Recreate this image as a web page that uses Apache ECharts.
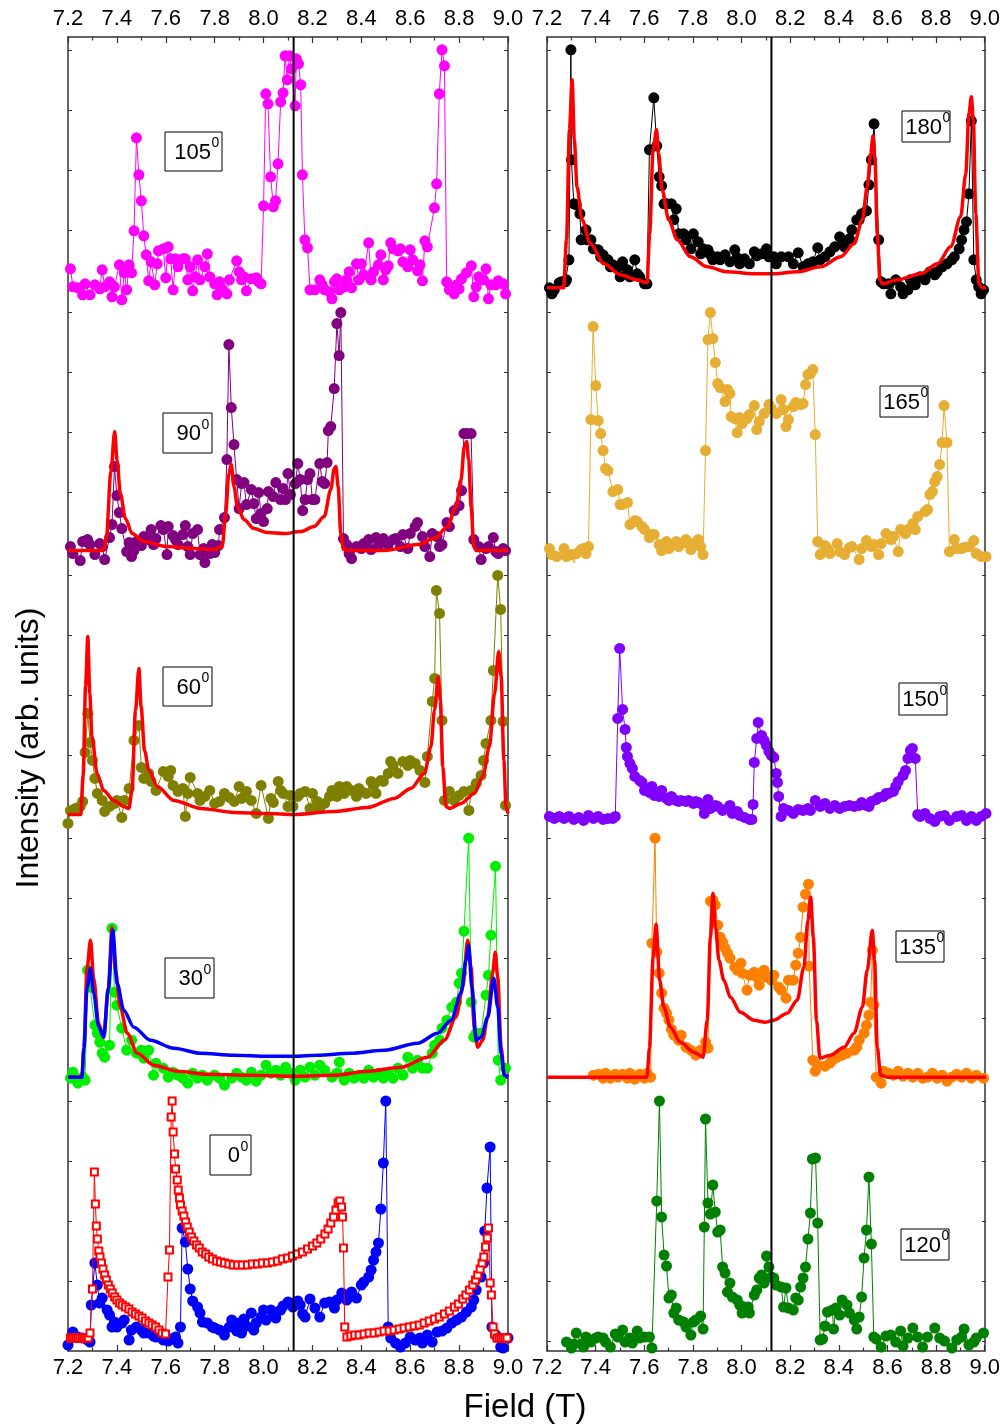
<!DOCTYPE html>
<html>
<head>
<meta charset="utf-8">
<script src="https://cdn.jsdelivr.net/npm/echarts@6/dist/echarts.min.js"></script>
<style>
  html, body { margin: 0; padding: 0; background: #fff; }
  #chart { width: 1003px; height: 1428px; }
</style>
</head>
<body>
<div id="chart"></div>
<script>
// Field sweeps (T) vs. intensity (arb. units, height above each strip's baseline)
const fieldTicks = [7.2, 7.4, 7.6, 7.8, 8.0, 8.2, 8.4, 8.6, 8.8, 9.0];
const refField = 8.123;

// ---- left column ----
const d105 = [[7.21,31],[7.22,13],[7.24,12],[7.26,5],[7.27,16],[7.29,5],[7.31,15],[7.33,11],[7.34,30],[7.35,13],[7.37,18],[7.38,3],[7.39,13],[7.41,35],[7.42,0],[7.43,27],[7.44,10],[7.45,35],[7.46,27],[7.47,69],[7.48,162],[7.49,125],[7.50,99],[7.51,64],[7.52,45],[7.53,19],[7.54,38],[7.555,15],[7.565,36],[7.57,49],[7.59,51],[7.60,22],[7.61,53],[7.62,41],[7.63,10],[7.64,41],[7.65,33],[7.67,41],[7.68,41],[7.69,20],[7.70,33],[7.71,9],[7.72,23],[7.73,40],[7.74,20],[7.76,33],[7.77,46],[7.78,23],[7.80,16],[7.81,5],[7.82,18],[7.83,11],[7.85,6],[7.86,20],[7.89,39],[7.90,28],[7.91,20],[7.92,23],[7.93,9],[7.95,21],[7.97,22],[7.98,18],[7.99,16],[8.00,94],[8.009,206],[8.018,196],[8.029,123],[8.04,93],[8.049,99],[8.059,136],[8.07,198],[8.08,207],[8.088,244],[8.097,220],[8.106,244],[8.114,231],[8.129,194],[8.134,241],[8.143,236],[8.152,215],[8.159,125],[8.169,60],[8.18,52],[8.19,10],[8.21,10],[8.23,20],[8.24,15],[8.25,10],[8.27,8],[8.28,1],[8.29,18],[8.30,21],[8.31,10],[8.33,13],[8.34,20],[8.35,28],[8.36,12],[8.38,36],[8.39,20],[8.40,36],[8.41,25],[8.43,57],[8.44,20],[8.45,28],[8.47,35],[8.48,45],[8.49,20],[8.50,30],[8.51,34],[8.52,57],[8.53,51],[8.55,49],[8.56,51],[8.57,38],[8.59,33],[8.60,50],[8.61,40],[8.63,29],[8.64,35],[8.65,19],[8.66,59],[8.67,53],[8.699,92],[8.708,116],[8.719,206],[8.73,250],[8.74,234],[8.749,18],[8.76,10],[8.78,6],[8.79,15],[8.80,11],[8.81,21],[8.83,27],[8.85,34],[8.86,3],[8.87,13],[8.88,23],[8.90,20],[8.91,31],[8.92,1],[8.93,15],[8.95,15],[8.96,19],[8.98,16],[8.99,6]];

const d90 = [[7.21,16],[7.22,9],[7.25,2],[7.26,21],[7.28,23],[7.29,18],[7.31,8],[7.33,19],[7.34,16],[7.35,3],[7.37,25],[7.38,38],[7.39,96],[7.40,67],[7.41,50],[7.42,34],[7.44,11],[7.45,20],[7.46,6],[7.47,12],[7.48,21],[7.50,17],[7.51,26],[7.53,23],[7.54,33],[7.55,18],[7.56,24],[7.58,37],[7.59,33],[7.605,8],[7.61,36],[7.63,27],[7.64,23],[7.65,18],[7.67,28],[7.68,37],[7.69,16],[7.70,8],[7.71,29],[7.73,33],[7.74,8],[7.755,14],[7.76,0],[7.78,9],[7.79,18],[7.80,10],[7.815,17],[7.82,33],[7.84,45],[7.85,103],[7.858,218],[7.868,155],[7.879,118],[7.89,83],[7.90,54],[7.91,79],[7.92,80],[7.93,58],[7.95,73],[7.96,59],[7.97,44],[7.98,70],[7.99,49],[8.00,41],[8.015,54],[8.02,71],[8.04,66],[8.05,80],[8.07,63],[8.08,74],[8.09,63],[8.10,89],[8.11,68],[8.13,79],[8.14,99],[8.15,83],[8.16,52],[8.17,63],[8.18,83],[8.19,89],[8.20,63],[8.21,63],[8.23,99],[8.24,81],[8.25,79],[8.26,100],[8.265,132],[8.275,136],[8.289,174],[8.30,239],[8.309,207],[8.316,250],[8.327,24],[8.34,18],[8.35,9],[8.36,4],[8.38,16],[8.40,14],[8.41,19],[8.43,23],[8.44,13],[8.46,25],[8.47,16],[8.49,24],[8.51,18],[8.53,23],[8.54,24],[8.56,16],[8.57,28],[8.59,14],[8.60,29],[8.62,36],[8.63,40],[8.65,26],[8.66,16],[8.68,6],[8.69,29],[8.71,26],[8.72,16],[8.73,18],[8.75,40],[8.76,36],[8.78,52],[8.80,57],[8.81,72],[8.82,129],[8.832,129],[8.849,129],[8.86,23],[8.88,16],[8.89,3],[8.91,14],[8.92,16],[8.94,25],[8.95,11],[8.96,9],[8.98,14],[8.99,12]];
const fit90 = [[7.2,12],[7.345,12],[7.357,25],[7.375,90],[7.391,131],[7.401,102],[7.414,69],[7.435,44],[7.462,29],[7.510,21],[7.606,16],[7.715,14],[7.797,13],[7.831,16],[7.845,49],[7.858,89],[7.868,98],[7.879,76],[7.893,56],[7.920,43],[7.961,34],[8.016,30],[8.084,29],[8.152,31],[8.207,36],[8.248,46],[8.275,73],[8.289,94],[8.296,96],[8.305,76],[8.316,29],[8.327,13],[8.357,12],[8.494,12],[8.630,18],[8.699,24],[8.753,36],[8.787,56],[8.808,83],[8.821,116],[8.831,121],[8.839,103],[8.849,56],[8.860,16],[8.870,12],[9.0,12]];

const d60 = [[7.20,2],[7.21,15],[7.23,17],[7.25,19],[7.26,24],[7.27,73],[7.281,112],[7.29,83],[7.30,65],[7.31,47],[7.32,32],[7.34,25],[7.35,14],[7.37,19],[7.39,22],[7.40,25],[7.42,8],[7.43,25],[7.45,37],[7.47,85],[7.49,100],[7.50,58],[7.51,47],[7.53,52],[7.54,44],[7.56,35],[7.59,54],[7.61,49],[7.62,55],[7.63,40],[7.65,34],[7.67,37],[7.68,9],[7.69,32],[7.70,48],[7.73,32],[7.74,25],[7.76,29],[7.78,35],[7.80,22],[7.82,24],[7.84,32],[7.86,28],[7.88,24],[7.90,39],[7.91,27],[7.93,34],[7.95,25],[7.97,12],[7.99,40],[8.02,7],[8.03,27],[8.04,23],[8.06,44],[8.07,35],[8.08,32],[8.10,19],[8.11,30],[8.12,19],[8.14,29],[8.15,32],[8.17,34],[8.19,17],[8.20,32],[8.22,24],[8.23,17],[8.25,22],[8.27,29],[8.28,35],[8.30,29],[8.31,39],[8.33,32],[8.34,39],[8.36,35],[8.38,29],[8.39,37],[8.40,34],[8.42,32],[8.44,44],[8.45,40],[8.46,32],[8.48,45],[8.49,44],[8.51,52],[8.52,64],[8.53,60],[8.55,52],[8.57,64],[8.59,60],[8.60,65],[8.62,62],[8.64,55],[8.66,43],[8.67,69],[8.69,124],[8.70,147],[8.707,235],[8.72,212],[8.73,105],[8.74,25],[8.76,34],[8.78,25],[8.80,30],[8.82,34],[8.84,15],[8.85,35],[8.87,42],[8.89,50],[8.90,65],[8.91,82],[8.93,105],[8.94,155],[8.958,250],[8.97,216],[8.98,104],[8.99,20]];
const fit60 = [[7.20,11],[7.252,11],[7.262,50],[7.272,140],[7.281,189],[7.289,132],[7.298,89],[7.319,52],[7.346,35],[7.387,25],[7.428,19],[7.449,17],[7.462,35],[7.476,115],[7.490,157],[7.499,119],[7.513,75],[7.531,55],[7.565,39],[7.633,25],[7.743,17],[7.879,13],[8.016,12],[8.125,11],[8.289,14],[8.426,18],[8.535,27],[8.603,37],[8.658,52],[8.685,79],[8.699,115],[8.715,149],[8.723,125],[8.733,59],[8.746,19],[8.760,17],[8.808,22],[8.862,32],[8.897,49],[8.924,79],[8.945,132],[8.962,174],[8.972,149],[8.983,65],[8.992,19],[9.0,12]];

const d30 = [[7.21,10],[7.22,16],[7.24,5],[7.26,11],[7.27,8],[7.28,118],[7.29,101],[7.31,63],[7.32,55],[7.33,46],[7.34,35],[7.35,31],[7.37,43],[7.38,160],[7.39,96],[7.40,83],[7.42,60],[7.44,38],[7.46,48],[7.48,35],[7.50,38],[7.51,30],[7.53,38],[7.55,13],[7.56,25],[7.59,20],[7.61,11],[7.63,16],[7.65,13],[7.67,10],[7.69,5],[7.71,15],[7.73,10],[7.75,13],[7.77,8],[7.80,13],[7.82,10],[7.84,3],[7.87,10],[7.89,15],[7.91,11],[7.93,8],[7.95,16],[7.97,7],[7.99,13],[8.01,23],[8.03,15],[8.05,18],[8.07,13],[8.09,21],[8.11,15],[8.13,8],[8.15,18],[8.17,11],[8.19,21],[8.21,13],[8.23,23],[8.25,18],[8.28,11],[8.30,15],[8.31,26],[8.33,8],[8.35,15],[8.37,10],[8.39,13],[8.41,10],[8.43,18],[8.45,11],[8.47,15],[8.49,10],[8.51,15],[8.53,10],[8.55,20],[8.57,13],[8.59,31],[8.61,20],[8.63,28],[8.65,20],[8.67,20],[8.69,35],[8.70,43],[8.72,48],[8.73,60],[8.75,68],[8.77,81],[8.79,86],[8.80,105],[8.81,115],[8.82,157],[8.839,250],[8.85,86],[8.86,51],[8.87,55],[8.89,55],[8.91,93],[8.92,113],[8.93,153],[8.949,222],[8.96,28],[8.97,8],[8.99,20]];
const fit30a = [[7.2,11],[7.257,11],[7.265,40],[7.278,120],[7.292,148],[7.305,110],[7.325,65],[7.346,51],[7.365,100],[7.380,161],[7.394,118],[7.414,81],[7.442,55],[7.483,35],[7.551,23],[7.647,17],[7.770,14],[7.947,13],[8.125,12],[8.289,13],[8.425,17],[8.562,21],[8.671,31],[8.740,48],[8.787,71],[8.815,101],[8.835,148],[8.849,121],[8.862,61],[8.876,41],[8.896,48],[8.917,71],[8.937,115],[8.948,136],[8.958,111],[8.972,41],[8.985,13],[9.0,11]];
const fit30b = [[7.2,11],[7.257,11],[7.265,40],[7.278,100],[7.292,120],[7.305,95],[7.325,62],[7.346,51],[7.365,100],[7.383,158],[7.401,105],[7.428,78],[7.469,61],[7.537,48],[7.633,40],[7.742,35],[7.879,33],[8.016,32],[8.125,32],[8.220,33],[8.357,35],[8.494,38],[8.630,45],[8.712,55],[8.767,68],[8.808,95],[8.828,128],[8.839,143],[8.852,101],[8.870,48],[8.890,51],[8.917,71],[8.942,110],[8.958,81],[8.972,35],[8.985,13],[9.0,11]];

const d0 = [[7.20,6],[7.22,19],[7.24,14],[7.26,13],[7.28,11],[7.29,9],[7.295,46],[7.31,88],[7.32,66],[7.33,48],[7.34,53],[7.36,41],[7.37,36],[7.38,24],[7.39,29],[7.40,24],[7.42,28],[7.43,31],[7.45,11],[7.46,21],[7.48,24],[7.50,21],[7.51,18],[7.53,18],[7.55,15],[7.56,14],[7.59,11],[7.61,10],[7.62,12],[7.64,14],[7.65,8],[7.66,24],[7.667,123],[7.68,109],[7.69,82],[7.70,62],[7.71,50],[7.73,44],[7.74,38],[7.75,29],[7.77,28],[7.79,24],[7.80,23],[7.82,21],[7.84,16],[7.86,24],[7.87,31],[7.89,20],[7.90,28],[7.91,18],[7.92,32],[7.93,25],[7.95,38],[7.96,21],[7.97,28],[7.99,34],[8.00,41],[8.01,31],[8.03,41],[8.04,36],[8.05,33],[8.07,41],[8.08,45],[8.10,49],[8.11,48],[8.12,44],[8.14,50],[8.15,46],[8.16,37],[8.17,34],[8.19,52],[8.21,43],[8.23,34],[8.25,48],[8.27,49],[8.29,43],[8.30,51],[8.32,58],[8.34,51],[8.35,54],[8.36,59],[8.38,53],[8.40,66],[8.41,69],[8.43,74],[8.44,81],[8.45,91],[8.46,99],[8.47,108],[8.48,142],[8.49,188],[8.50,250],[8.51,24],[8.52,13],[8.54,8],[8.56,4],[8.58,8],[8.60,14],[8.62,11],[8.64,13],[8.65,8],[8.67,16],[8.69,9],[8.71,19],[8.73,20],[8.75,23],[8.77,28],[8.79,31],[8.81,34],[8.83,39],[8.85,44],[8.86,51],[8.87,61],[8.89,74],[8.90,88],[8.905,120],[8.914,163],[8.927,204],[8.934,24],[8.95,16],[8.97,4],[8.98,3],[9.00,13]];
const d0calc = [[7.21,13],[7.218,13],[7.226,13],[7.234,13],[7.242,13],[7.250,13],[7.259,13],[7.267,13],[7.275,13],[7.283,13],[7.29,18],[7.30,62],[7.308,179],[7.312,147],[7.316,125],[7.320,112],[7.326,100],[7.331,94],[7.337,88],[7.343,82],[7.350,76],[7.357,71],[7.365,66],[7.373,62],[7.381,58],[7.391,54],[7.400,51],[7.411,48],[7.422,46],[7.435,44],[7.449,42],[7.462,39],[7.476,37],[7.490,35],[7.503,33],[7.517,30],[7.531,28],[7.544,26],[7.558,24],[7.572,21],[7.585,18],[7.599,17],[7.609,74],[7.615,101],[7.622,234],[7.626,250],[7.630,219],[7.636,197],[7.640,182],[7.647,171],[7.651,161],[7.656,153],[7.660,146],[7.667,140],[7.674,135],[7.681,129],[7.688,124],[7.696,119],[7.705,114],[7.715,110],[7.726,106],[7.737,103],[7.749,99],[7.763,97],[7.776,94],[7.791,92],[7.808,90],[7.824,89],[7.840,88],[7.858,87],[7.876,86],[7.894,86],[7.913,86],[7.934,86],[7.954,87],[7.975,87],[7.995,88],[8.016,88],[8.036,89],[8.057,90],[8.077,92],[8.098,93],[8.118,95],[8.139,97],[8.159,99],[8.180,102],[8.200,105],[8.218,108],[8.234,112],[8.251,117],[8.264,122],[8.275,128],[8.286,134],[8.296,141],[8.305,148],[8.312,150],[8.319,144],[8.323,134],[8.327,103],[8.332,24],[8.341,14],[8.357,15],[8.373,16],[8.391,16],[8.411,17],[8.432,18],[8.452,18],[8.473,19],[8.493,20],[8.514,20],[8.534,21],[8.555,22],[8.575,23],[8.596,24],[8.616,25],[8.637,26],[8.657,28],[8.678,30],[8.699,32],[8.719,34],[8.740,37],[8.760,40],[8.781,44],[8.797,47],[8.815,52],[8.828,56],[8.842,61],[8.856,66],[8.867,71],[8.876,76],[8.886,82],[8.894,88],[8.901,94],[8.908,104],[8.915,113],[8.920,123],[8.927,68],[8.932,56],[8.939,24],[8.945,17],[8.955,13],[8.964,13],[8.972,13],[8.980,13],[8.988,13],[8.996,13]];

// ---- right column ----
const d180 = [[7.21,12],[7.22,6],[7.23,10],[7.25,17],[7.26,18],[7.275,18],[7.28,20],[7.29,40],[7.298,250],[7.30,140],[7.31,96],[7.32,95],[7.335,86],[7.34,60],[7.36,70],[7.365,60],[7.38,60],[7.39,51],[7.41,50],[7.42,43],[7.43,45],[7.45,40],[7.46,33],[7.47,35],[7.49,33],[7.50,23],[7.51,38],[7.53,30],[7.54,23],[7.56,40],[7.57,26],[7.58,23],[7.60,16],[7.61,16],[7.62,150],[7.638,202],[7.65,154],[7.66,123],[7.67,114],[7.68,96],[7.69,96],[7.71,96],[7.72,80],[7.73,91],[7.74,66],[7.76,66],[7.77,60],[7.79,51],[7.80,66],[7.82,58],[7.83,46],[7.84,51],[7.86,50],[7.87,45],[7.88,40],[7.90,43],[7.91,40],[7.93,45],[7.95,38],[7.97,50],[7.98,42],[7.99,36],[8.01,41],[8.03,36],[8.05,48],[8.06,44],[8.08,46],[8.10,51],[8.11,43],[8.13,43],[8.14,36],[8.16,43],[8.19,43],[8.21,36],[8.23,47],[8.25,33],[8.27,36],[8.29,38],[8.31,52],[8.32,40],[8.34,43],[8.36,48],[8.38,53],[8.40,63],[8.41,60],[8.42,53],[8.44,61],[8.45,70],[8.47,80],[8.48,80],[8.49,86],[8.51,89],[8.52,115],[8.53,140],[8.541,176],[8.56,60],[8.57,18],[8.58,16],[8.60,16],[8.61,6],[8.63,20],[8.65,13],[8.66,6],[8.68,10],[8.69,20],[8.71,15],[8.73,23],[8.75,20],[8.77,28],[8.79,25],[8.80,28],[8.82,33],[8.84,36],[8.86,40],[8.87,43],[8.89,51],[8.90,60],[8.91,70],[8.92,78],[8.93,106],[8.94,179],[8.95,40],[8.96,20],[8.97,13],[8.98,6],[8.99,10]];
const fit180 = [[7.2,12],[7.268,12],[7.28,60],[7.292,170],[7.303,220],[7.312,160],[7.323,113],[7.344,80],[7.378,56],[7.433,36],[7.501,25],[7.569,20],[7.610,17],[7.621,66],[7.635,150],[7.649,170],[7.658,146],[7.672,110],[7.699,80],[7.734,60],[7.788,43],[7.857,33],[7.939,28],[8.048,26],[8.130,26],[8.226,28],[8.322,33],[8.404,43],[8.459,56],[8.493,80],[8.513,113],[8.527,146],[8.537,164],[8.545,140],[8.554,66],[8.565,20],[8.575,16],[8.636,20],[8.732,26],[8.801,36],[8.855,53],[8.896,83],[8.917,126],[8.930,186],[8.940,203],[8.948,180],[8.958,86],[8.971,16],[8.985,12],[9.0,12]];

const d165 = [[7.21,14],[7.22,8],[7.24,6],[7.27,14],[7.28,6],[7.30,8],[7.31,-2],[7.32,9],[7.34,13],[7.35,14],[7.36,9],[7.37,16],[7.38,143],[7.389,236],[7.40,177],[7.41,142],[7.42,129],[7.43,112],[7.44,94],[7.45,92],[7.47,71],[7.49,73],[7.50,58],[7.51,58],[7.53,60],[7.54,38],[7.56,42],[7.57,41],[7.59,36],[7.60,33],[7.62,25],[7.63,28],[7.64,28],[7.66,18],[7.67,12],[7.69,21],[7.70,14],[7.71,18],[7.73,21],[7.74,16],[7.75,19],[7.77,23],[7.78,19],[7.79,13],[7.80,19],[7.82,23],[7.83,16],[7.84,8],[7.85,112],[7.86,223],[7.87,250],[7.88,224],[7.89,200],[7.90,179],[7.91,175],[7.93,161],[7.94,173],[7.95,169],[7.955,146],[7.97,144],[7.98,130],[7.99,145],[8.00,139],[8.02,144],[8.03,148],[8.05,157],[8.06,133],[8.07,141],[8.09,149],[8.11,158],[8.12,154],[8.14,149],[8.16,163],[8.17,153],[8.18,136],[8.19,143],[8.21,156],[8.22,160],[8.24,158],[8.25,159],[8.26,178],[8.27,188],[8.28,189],[8.29,193],[8.30,128],[8.31,21],[8.32,8],[8.34,17],[8.35,14],[8.36,9],[8.39,19],[8.40,11],[8.42,8],[8.44,15],[8.45,16],[8.48,3],[8.49,14],[8.51,22],[8.53,16],[8.54,18],[8.56,8],[8.57,19],[8.59,29],[8.61,23],[8.62,26],[8.64,11],[8.65,33],[8.67,29],[8.68,33],[8.70,39],[8.71,33],[8.72,46],[8.75,51],[8.76,53],[8.77,68],[8.78,71],[8.79,81],[8.80,86],[8.81,98],[8.82,120],[8.828,157],[8.84,120],[8.85,11],[8.87,23],[8.88,14],[8.90,14],[8.91,15],[8.93,16],[8.95,22],[8.96,9],[8.98,6],[9.00,6]];

const d150 = [[7.21,9],[7.23,7],[7.25,9],[7.27,7],[7.29,9],[7.31,6],[7.33,8],[7.35,5],[7.37,10],[7.39,7],[7.41,9],[7.43,6],[7.45,7],[7.47,7],[7.48,9],[7.49,107],[7.498,177],[7.51,116],[7.52,96],[7.525,78],[7.53,69],[7.54,62],[7.55,57],[7.56,49],[7.58,45],[7.59,43],[7.60,35],[7.62,33],[7.63,39],[7.64,30],[7.66,29],[7.67,35],[7.69,27],[7.70,25],[7.71,29],[7.73,25],[7.74,24],[7.75,25],[7.77,24],[7.78,25],[7.80,22],[7.81,24],[7.82,23],[7.84,20],[7.845,12],[7.86,26],[7.87,17],[7.89,20],[7.90,19],[7.92,15],[7.94,17],[7.95,20],[7.96,12],[7.98,14],[7.99,10],[8.01,8],[8.03,6],[8.04,6],[8.045,21],[8.05,63],[8.06,87],[8.066,103],[8.08,90],[8.09,85],[8.10,80],[8.11,74],[8.12,70],[8.13,68],[8.14,52],[8.145,43],[8.15,29],[8.16,9],[8.17,17],[8.19,15],[8.21,12],[8.23,16],[8.25,15],[8.27,17],[8.28,15],[8.30,25],[8.32,19],[8.34,22],[8.36,17],[8.38,20],[8.40,17],[8.42,19],[8.44,20],[8.46,19],[8.48,20],[8.49,23],[8.51,20],[8.52,19],[8.53,24],[8.55,26],[8.56,28],[8.58,29],[8.59,32],[8.60,32],[8.62,34],[8.63,39],[8.64,44],[8.66,50],[8.67,55],[8.68,67],[8.69,75],[8.698,77],[8.71,67],[8.72,11],[8.73,9],[8.75,12],[8.77,7],[8.79,4],[8.81,9],[8.83,10],[8.85,5],[8.88,9],[8.90,10],[8.92,5],[8.94,9],[8.96,5],[8.98,9],[9.00,12]];

const d135 = [[7.39,13],[7.41,14],[7.43,10],[7.44,15],[7.46,10],[7.48,14],[7.49,11],[7.51,14],[7.53,10],[7.54,15],[7.56,9],[7.58,14],[7.60,10],[7.61,15],[7.625,11],[7.63,145],[7.643,250],[7.65,136],[7.66,115],[7.67,95],[7.68,80],[7.69,75],[7.70,68],[7.71,59],[7.72,53],[7.74,48],[7.75,53],[7.77,41],[7.79,38],[7.81,33],[7.83,38],[7.85,46],[7.86,40],[7.87,187],[7.88,188],[7.89,183],[7.90,163],[7.91,151],[7.92,146],[7.93,140],[7.94,135],[7.95,130],[7.97,121],[7.98,118],[7.995,125],[8.00,115],[8.02,98],[8.03,113],[8.05,116],[8.06,111],[8.07,103],[8.09,118],[8.10,111],[8.12,108],[8.13,113],[8.15,101],[8.16,98],[8.18,90],[8.19,108],[8.21,108],[8.22,123],[8.23,135],[8.24,151],[8.25,181],[8.26,194],[8.272,204],[8.275,122],[8.29,28],[8.30,17],[8.31,23],[8.34,22],[8.36,25],[8.37,28],[8.39,31],[8.41,33],[8.43,35],[8.46,38],[8.47,41],[8.48,48],[8.50,55],[8.51,63],[8.52,73],[8.527,86],[8.534,138],[8.54,83],[8.55,11],[8.57,5],[8.58,17],[8.60,15],[8.62,13],[8.64,17],[8.66,12],[8.68,15],[8.70,11],[8.72,15],[8.74,10],[8.76,11],[8.78,15],[8.80,10],[8.82,13],[8.84,7],[8.86,11],[8.88,14],[8.90,11],[8.92,15],[8.94,10],[8.96,13],[8.99,10]];
const fit135 = [[7.2,11],[7.610,11],[7.62,40],[7.635,130],[7.647,164],[7.662,108],[7.679,81],[7.706,61],[7.747,46],[7.802,36],[7.840,31],[7.857,68],[7.870,151],[7.881,195],[7.891,161],[7.905,128],[7.925,108],[7.952,91],[7.993,76],[8.048,68],[8.096,66],[8.130,68],[8.185,75],[8.226,88],[8.253,121],[8.270,168],[8.281,191],[8.292,151],[8.305,68],[8.319,30],[8.363,33],[8.418,41],[8.459,55],[8.493,81],[8.513,118],[8.534,158],[8.543,128],[8.554,41],[8.568,13],[8.595,11],[9.0,11]];

const d120 = [[7.28,9],[7.30,3],[7.31,7],[7.32,18],[7.34,7],[7.35,4],[7.36,14],[7.38,9],[7.40,13],[7.41,14],[7.43,13],[7.44,9],[7.46,4],[7.48,17],[7.49,14],[7.51,21],[7.52,9],[7.54,13],[7.55,8],[7.57,20],[7.58,13],[7.60,14],[7.62,14],[7.63,3],[7.65,150],[7.661,250],[7.67,134],[7.68,96],[7.69,85],[7.70,53],[7.71,56],[7.72,38],[7.73,43],[7.74,31],[7.76,29],[7.77,24],[7.79,16],[7.80,29],[7.81,31],[7.83,35],[7.84,22],[7.845,124],[7.85,232],[7.86,148],[7.87,137],[7.88,166],[7.89,139],[7.90,119],[7.91,121],[7.92,84],[7.93,78],[7.94,59],[7.95,68],[7.96,54],[7.98,51],[7.99,46],[8.00,38],[8.01,44],[8.025,44],[8.03,38],[8.05,56],[8.06,61],[8.07,73],[8.08,76],[8.09,68],[8.10,95],[8.11,84],[8.12,74],[8.13,73],[8.14,66],[8.16,64],[8.17,44],[8.18,63],[8.19,43],[8.21,41],[8.22,53],[8.23,51],[8.24,64],[8.25,73],[8.26,84],[8.27,112],[8.28,138],[8.288,192],[8.301,193],[8.31,128],[8.32,11],[8.33,12],[8.34,25],[8.35,39],[8.37,41],[8.375,22],[8.385,43],[8.40,36],[8.41,51],[8.43,46],[8.44,38],[8.46,31],[8.47,22],[8.48,34],[8.49,54],[8.50,93],[8.51,121],[8.52,174],[8.53,107],[8.54,14],[8.55,12],[8.57,4],[8.59,15],[8.61,16],[8.63,9],[8.65,20],[8.66,5],[8.68,13],[8.70,23],[8.72,14],[8.74,4],[8.76,14],[8.79,23],[8.81,13],[8.83,10],[8.86,3],[8.88,11],[8.90,14],[8.91,22],[8.93,6],[8.95,9],[8.96,13],[8.99,18]];

// ---- strip labels (angle, degrees) ----
const anglesLeft = ['105', '90', '60', '30', '0'];
const anglesRight = ['180', '165', '150', '135', '120'];

// ---- layout ----
const columns = [{ left: 68, width: 440 }, { left: 547, width: 439 }];
const TOP = 37, STRIP_H = 262.8, NSTRIP = 5;
const AXIS_COLOR = '#333';
const FONT = '"Liberation Sans", Arial, Helvetica, sans-serif';

const grid = [], xAxis = [], yAxis = [], series = [];

// Outer frames with the shared field axes (top and bottom)
columns.forEach((c, p) => {
  grid.push({ left: c.left, top: TOP, width: c.width, height: STRIP_H * NSTRIP });
  ['bottom', 'top'].forEach(pos => {
    xAxis.push({
      gridIndex: p, type: 'value', position: pos,
      min: fieldTicks[0], max: fieldTicks[fieldTicks.length - 1], interval: 0.2,
      axisLine: { show: true, onZero: false, lineStyle: { color: AXIS_COLOR, width: 1.5 } },
      axisTick: { show: true, inside: true, length: 6, lineStyle: { color: AXIS_COLOR, width: 1.2 } },
      minorTick: { show: true, splitNumber: 2, length: 3.5, lineStyle: { color: AXIS_COLOR, width: 1.2 } },
      splitLine: { show: false },
      axisLabel: {
        show: true, fontSize: 22, color: '#000', fontFamily: FONT,
        margin: pos === 'top' ? 7 : 6, showMinLabel: true, showMaxLabel: true,
        formatter: v => v.toFixed(1)
      }
    });
  });
  ['left', 'right'].forEach(pos => {
    yAxis.push({
      gridIndex: p, type: 'value', position: pos, min: 0, max: 1,
      axisLine: { show: true, onZero: false, lineStyle: { color: AXIS_COLOR, width: 1.5 } },
      axisTick: { show: false }, axisLabel: { show: false }, splitLine: { show: false }
    });
  });
  series.push({
    type: 'line', xAxisIndex: p * 2, yAxisIndex: p * 2,
    data: [[refField, 0], [refField, 1]],
    symbol: 'none', lineStyle: { color: '#000', width: 2 }, z: 10, silent: true
  });
});

// Stacked strips, five per column
columns.forEach((c, p) => {
  for (let k = 0; k < NSTRIP; k++) {
    const g = grid.length;
    grid.push({ left: c.left, top: TOP + k * STRIP_H, width: c.width, height: STRIP_H });
    xAxis.push({ gridIndex: g, type: 'value', min: 7.2, max: 9.0, show: false });
    ['left', 'right'].forEach(pos => {
      yAxis.push({
        gridIndex: g, type: 'value', position: pos, min: 0, max: STRIP_H,
        axisLine: { show: false },
        axisTick: { show: true, inside: true, length: 4, customValues: [10, 70, 130, 190, 250],
                    lineStyle: { color: AXIS_COLOR, width: 1 } },
        axisLabel: { show: false }, splitLine: { show: false }
      });
    });
  }
});

function stripAxes(p, k) {
  const idx = p * NSTRIP + k;
  return { xAxisIndex: 4 + idx, yAxisIndex: 4 + idx * 2 };
}
function dots(name, data, color, p, k, extra) {
  series.push(Object.assign({
    name, type: 'line', data, symbol: 'circle', symbolSize: 11,
    itemStyle: { color }, lineStyle: { color, width: 1 }, z: 3
  }, stripAxes(p, k), extra || {}));
}
function fit(name, data, color, p, k) {
  series.push(Object.assign({
    name, type: 'line', data, symbol: 'none', smooth: 0.3, smoothMonotone: 'x',
    lineStyle: { color, width: 3.5 }, z: 4
  }, stripAxes(p, k)));
}

// left column
dots('105', d105, '#ff00ff', 0, 0);
dots('90', d90, '#800080', 0, 1);
fit('90 fit', fit90, '#ff0000', 0, 1);
dots('60', d60, '#808000', 0, 2);
fit('60 fit', fit60, '#ff0000', 0, 2);
dots('30', d30, '#00ee00', 0, 3);
fit('30 fit a', fit30a, '#ff0000', 0, 3);
fit('30 fit b', fit30b, '#0000ff', 0, 3);
dots('0', d0, '#0000ff', 0, 4);
dots('0 calc', d0calc, '#ff0000', 0, 4, { symbol: 'emptyRect', symbolSize: 7, lineStyle: { color: '#ff0000', width: 1 }, z: 4 });

// right column
dots('180', d180, '#000000', 1, 0);
fit('180 fit', fit180, '#ff0000', 1, 0);
dots('165', d165, '#e6ae32', 1, 1);
dots('150', d150, '#8000ff', 1, 2);
dots('135', d135, '#ff8000', 1, 3);
fit('135 fit', fit135, '#ff0000', 1, 3);
dots('120', d120, '#008000', 1, 4);

// Boxed angle tags with superscript degree mark
const tagBoxesLeft = [[165, 132, 57, 39], [163, 413, 49, 40], [163, 667, 49, 39], [165, 958, 49, 40], [210, 1135, 41, 40]];
const tagBoxesRight = [[902, 111, 48, 31], [880, 386, 48, 31], [899, 683, 48, 32], [896, 931, 48, 31], [901, 1229, 48, 31]];

function tag(label, box, inset) {
  const [x, y, w, h] = box;
  const sx = x + w - inset;
  const cy = y + h / 2;
  return {
    type: 'group', z: 50, children: [
      { type: 'rect', z: 50, shape: { x, y, width: w, height: h },
        style: { fill: '#fff', stroke: '#000', lineWidth: 1 } },
      { type: 'text', z: 51, x: sx, y: cy + 1,
        style: { text: label, fontSize: 22, fontFamily: FONT, fill: '#000',
                 align: 'right', textAlign: 'right', verticalAlign: 'middle', textVerticalAlign: 'middle' } },
      { type: 'text', z: 51, x: sx + 0.5, y: cy - 8,
        style: { text: '0', fontSize: 14, fontFamily: FONT, fill: '#000',
                 align: 'left', textAlign: 'left', verticalAlign: 'middle', textVerticalAlign: 'middle' } }
    ]
  };
}

const graphic = [];
anglesLeft.forEach((a, i) => graphic.push(tag(a, tagBoxesLeft[i], 11)));
anglesRight.forEach((a, i) => graphic.push(tag(a, tagBoxesRight[i], 8)));
graphic.push({
  type: 'text', z: 60, x: 29, y: 748, rotation: Math.PI / 2,
  style: { text: 'Intensity (arb. units)', fontSize: 32, fontFamily: FONT, fill: '#000',
           align: 'center', textAlign: 'center', verticalAlign: 'middle', textVerticalAlign: 'middle' }
});
graphic.push({
  type: 'text', z: 60, x: 525, y: 1408,
  style: { text: 'Field (T)', fontSize: 33, fontFamily: FONT, fill: '#000',
           align: 'center', textAlign: 'center', verticalAlign: 'middle', textVerticalAlign: 'middle' }
});

const chart = echarts.init(document.getElementById('chart'), null, { renderer: 'canvas' });
chart.setOption({
  animation: false,
  backgroundColor: '#fff',
  textStyle: { fontFamily: FONT },
  grid, xAxis, yAxis, series, graphic
});
</script>
</body>
</html>
